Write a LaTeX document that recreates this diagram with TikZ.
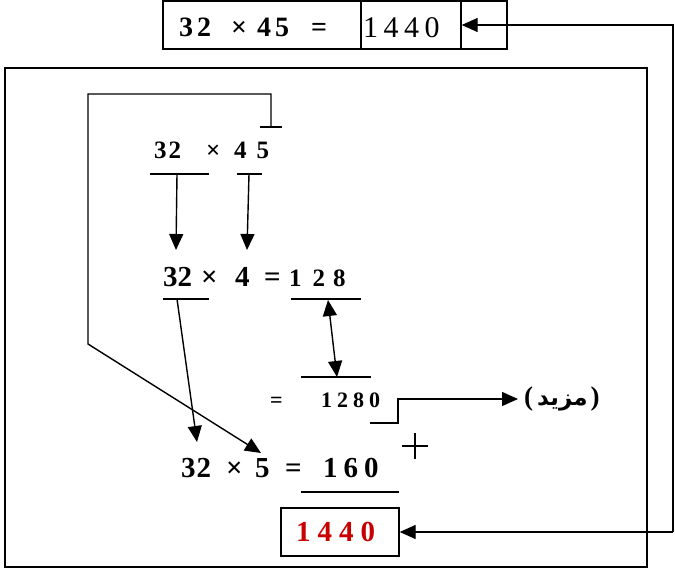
\documentclass[tikz,border=0pt]{standalone}
\usepackage{fontspec}
\setmainfont{Liberation Serif}
\newfontfamily\arabicfont[Script=Arabic]{DejaVu Sans}
\TeXXeTstate=1
\usetikzlibrary{arrows.meta}
\tikzset{
  txt/.style={inner sep=0pt, anchor=base west, font=\bfseries},
  big/.style={txt, font=\bfseries\fontsize{29}{31}\selectfont},
  mid/.style={txt, font=\bfseries\fontsize{25}{27}\selectfont},
  sml/.style={txt, font=\bfseries\fontsize{22}{24}\selectfont},
  ln/.style={line width=1.4pt},
  tip/.tip={Triangle[length=16pt,width=14pt]},
  arr/.style={ln, -tip},
  darr/.style={ln, tip-tip},
  boxn/.style={draw, line width=1.4pt, inner sep=0pt}
}
\begin{document}
\begin{tikzpicture}[x=1pt,y=-1pt]
\useasboundingbox (0,0) rectangle (675,572);
% top box
\node[boxn, minimum width=198pt, minimum height=48pt] (topA) at (262,25) {};
\node[boxn, minimum width=100pt, minimum height=48pt] (topB) at (411,25) {};
\node[boxn, minimum width=46pt, minimum height=48pt] (topC) at (484,25) {};
\node[big, font=\bfseries\fontsize{28}{30}\selectfont] (t1) at (179,37) {3\hspace{4pt}2};
\node[big, font=\bfseries\fontsize{28}{30}\selectfont] (t2) at (231,37) {×};
\node[big, font=\bfseries\fontsize{28}{30}\selectfont] (t3) at (257,37) {4\hspace{4pt}5};
\node[big, font=\bfseries\fontsize{28}{30}\selectfont] (t4) at (311,37) {=};
\node[txt, font=\fontsize{30}{32}\selectfont] (t5) at (363,38) {1\hspace{5.5pt}4\hspace{5.5pt}4\hspace{5.5pt}0};
% big frame
\draw[line width=2pt] (5,68) rectangle (647,567);
% row 1
\node[mid] (r1a) at (154,159) {3\hspace{2pt}2};
\node[mid] (r1b) at (206,159) {×};
\node[mid] (r1c) at (234,159) {4\hspace{10pt}5};
\draw[ln] (150,174) -- (209,174);
\draw[ln] (237,174) -- (262,174);
\coordinate (u1a) at (177,174);
\coordinate (u1b) at (249,174);
% row 2
\node[big] (r2a) at (163,287) {32};
\node[big] (r2b) at (201,287) {×};
\node[big] (r2c) at (235,287) {4};
\node[big] (r2d) at (264,287) {=};
\node[mid] (r2e) at (289,287) {1\hspace{11pt}2\hspace{8pt}8};
\draw[ln] (163,299) -- (209,299);
\draw[ln] (291,299) -- (361,299);
\coordinate (a1) at (176,250);
\coordinate (a2) at (247,250);
\draw[arr] (u1a) -- (a1);
\draw[arr] (u1b) -- (a2);
\coordinate (u2a) at (177,299);
\coordinate (u2b) at (328,300);
% row 3
\node[sml] (r3a) at (270,407) {=};
\node[sml] (r3b) at (321,407) {1\hspace{5pt}2\hspace{5pt}8\hspace{5pt}0};
\draw[ln] (301,377) -- (371,377);
\coordinate (u3) at (337,377);
\draw[darr] (u2b) -- (u3);
\coordinate (b0) at (370,423);
\coordinate (b1) at (398,423);
\coordinate (b2) at (398,399);
\node[inner sep=0pt, anchor=west, font=\bfseries\fontsize{27}{29}\selectfont] (more) at (524,399) {(\hspace{4pt}{\arabicfont\fontsize{23}{25}\selectfont\beginR مزيد\endR}\hspace{3pt})};
\draw[arr, shorten >=6pt] (b0) -- (b1) -- (b2) -- (more.west);
% plus
\draw[ln] (402,446) -- (428,446);
\draw[ln] (415,433) -- (415,459);
% row 4
\node[big] (r4a) at (181,477) {3\hspace{1pt}2};
\node[big] (r4b) at (226,477) {×};
\node[big] (r4c) at (255,477) {5};
\node[big] (r4d) at (285,477) {=};
\node[big] (r4e) at (323,477) {1\hspace{6pt}6\hspace{6pt}0};
\draw[ln] (301,492) -- (399,492);
\coordinate (a3) at (197,442);
\draw[arr] (u2a) -- (a3);
% bracket path from 45 to 5
\draw[ln] (260,127) -- (282,127);
\coordinate (k0) at (271,127);
\coordinate (k1) at (271,94);
\coordinate (k2) at (88,94);
\coordinate (k3) at (88,344);
\coordinate (k4) at (261,453);
\draw[arr] (k0) -- (k1) -- (k2) -- (k3) -- (k4);
% result box
\node[boxn, minimum width=118pt, minimum height=48pt] (res) at (340,532) {};
\node[big, text={rgb,255:red,200;green,0;blue,0}] (r5) at (296,541) {1\hspace{7pt}4\hspace{7pt}4\hspace{7pt}0};
% right connector
\coordinate (rt) at (673,25);
\coordinate (rb) at (673,532);
\draw[arr] (rb) -- (rt) -- (topB.east);
\draw[arr] (rb) -- (res.east);
\end{tikzpicture}
\end{document}
